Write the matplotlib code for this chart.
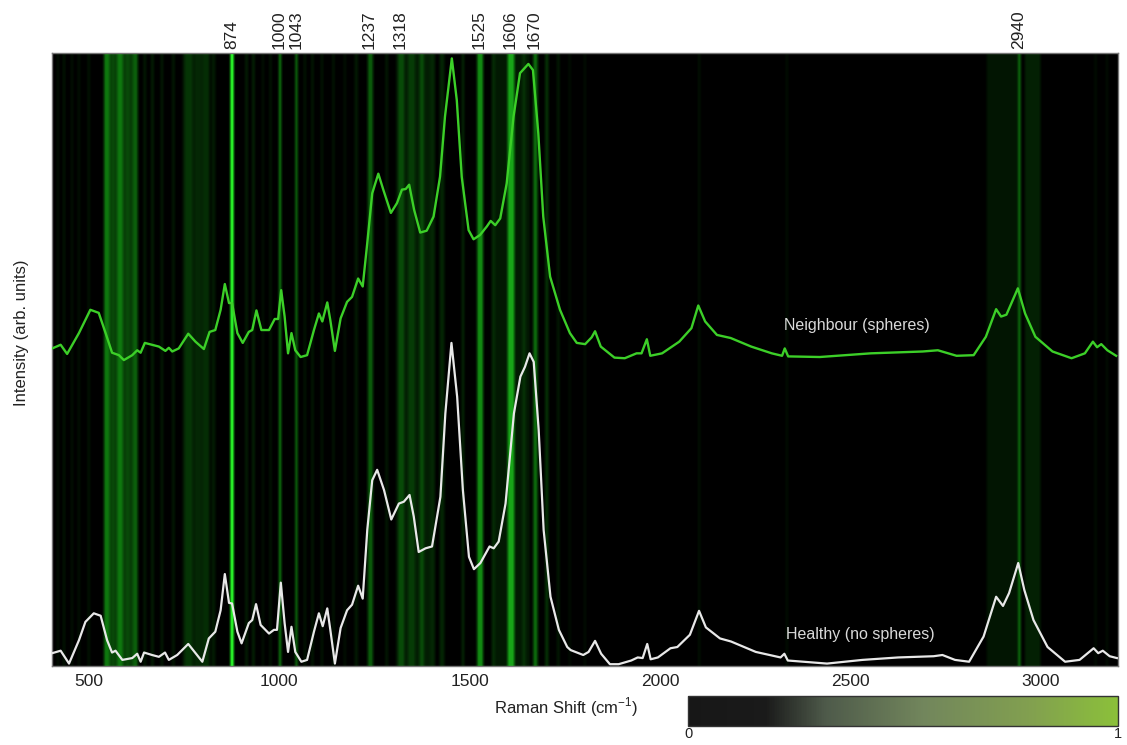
import numpy as np
import matplotlib
matplotlib.use('Agg')
import matplotlib.pyplot as plt
from matplotlib.colors import LinearSegmentedColormap

plt.rcParams['font.family'] = ['Liberation Sans', 'DejaVu Sans']
plt.rcParams['mathtext.fontset'] = 'custom'
plt.rcParams['mathtext.rm'] = 'Liberation Sans'

# Neighbour (spheres) spectrum
green_shift = [404, 426, 443, 474, 504, 526, 544, 561, 579, 592, 614, 627, 636, 647, 666, 684, 701, 710, 719, 736,
               761, 780, 802, 817, 832, 846, 857, 868, 876, 890, 904, 920, 929, 940, 953, 973, 988, 997, 1005, 1014,
               1023, 1032, 1042, 1056, 1073, 1091, 1104, 1113, 1126, 1134, 1146, 1161, 1178, 1191, 1207, 1219, 1231,
               1244, 1260, 1273, 1293, 1309, 1322, 1332, 1341, 1354, 1370, 1387, 1405, 1422, 1435, 1453, 1466, 1479,
               1497, 1510, 1527, 1545, 1555, 1567, 1580, 1597, 1615, 1632, 1654, 1666, 1680, 1693, 1711, 1737, 1763,
               1781, 1803, 1820, 1829, 1844, 1880, 1907, 1938, 1951, 1965, 1974, 2005, 2050, 2082, 2100, 2118, 2149,
               2185, 2239, 2293, 2320, 2327, 2336, 2419, 2553, 2689, 2729, 2778, 2823, 2855, 2882, 2895, 2909, 2939,
               2958, 2985, 3030, 3080, 3115, 3136, 3147, 3158, 3174, 3197]
green_int = [51.8, 52.4, 50.9, 54.3, 58.1, 57.6, 54.3, 51.1, 50.7, 49.9, 50.7, 51.5, 51.1, 52.7, 52.4, 52.1, 51.4,
             51.9, 51.3, 51.8, 54.2, 52.9, 51.7, 54.5, 54.8, 58.1, 62.3, 59.2, 59.2, 54.3, 52.7, 54.5, 54.8, 58.0,
             54.8, 54.8, 56.6, 56.6, 61.3, 57.0, 51.0, 54.3, 51.5, 50.4, 50.7, 54.8, 57.5, 56.2, 59.3, 56.4, 51.4,
             56.7, 59.4, 60.2, 63.2, 61.9, 69.0, 77.1, 80.3, 77.7, 73.9, 75.5, 77.7, 77.8, 78.5, 74.4, 70.7, 71.0,
             73.3, 79.8, 89.6, 99.1, 92.3, 79.8, 71.1, 69.6, 70.3, 71.7, 72.6, 71.9, 73.0, 78.7, 89.6, 96.7, 98.2,
             97.2, 86.9, 73.3, 63.5, 58.1, 54.3, 52.7, 52.5, 53.6, 54.6, 52.1, 50.3, 50.2, 51.0, 51.0, 53.3, 50.6,
             51.0, 52.9, 55.1, 58.8, 56.2, 54.0, 53.5, 52.1, 51.0, 50.6, 51.8, 50.5, 50.4, 51.0, 51.3, 51.5, 50.6,
             50.7, 53.7, 58.2, 57.0, 57.3, 61.6, 57.5, 53.7, 51.3, 50.2, 51.0, 52.9, 52.0, 52.5, 51.5, 50.6]

# Healthy (no spheres) spectrum
white_shift = [404, 426, 448, 474, 491, 513, 531, 548, 561, 570, 588, 614, 627, 636, 645, 666, 684, 700, 710, 732,
               761, 780, 798, 815, 832, 846, 857, 868, 876, 890, 901, 920, 929, 939, 951, 973, 986, 994, 1004, 1014,
               1023, 1032, 1042, 1058, 1073, 1091, 1104, 1114, 1126, 1134, 1146, 1161, 1178, 1191, 1207, 1219, 1231,
               1244, 1257, 1275, 1294, 1314, 1327, 1342, 1353, 1366, 1384, 1401, 1423, 1436, 1452, 1467, 1482, 1498,
               1511, 1528, 1552, 1563, 1576, 1594, 1616, 1633, 1645, 1657, 1668, 1681, 1694, 1712, 1734, 1756, 1765,
               1798, 1812, 1829, 1845, 1868, 1891, 1924, 1941, 1954, 1966, 1975, 1994, 2027, 2045, 2078, 2102, 2120,
               2157, 2186, 2251, 2316, 2326, 2335, 2438, 2531, 2625, 2718, 2741, 2774, 2811, 2849, 2882, 2900, 2916,
               2940, 2956, 2980, 3017, 3063, 3101, 3138, 3150, 3162, 3180, 3199]
white_int = [2.1, 2.5, 0.4, 4.2, 7.2, 8.6, 8.2, 4.2, 2.2, 2.5, 1.0, 1.3, 2.0, 0.7, 2.2, 1.8, 1.5, 2.2, 1.0, 1.8,
             3.6, 2.1, 0.7, 4.5, 5.6, 9.1, 15.0, 10.3, 10.2, 5.6, 3.7, 7.0, 7.5, 10.1, 6.7, 5.3, 5.9, 5.9, 13.6, 7.0,
             2.3, 6.4, 2.3, 0.7, 1.0, 5.6, 8.6, 6.5, 9.4, 5.9, 0.4, 6.2, 9.1, 10.0, 13.1, 11.0, 22.2, 30.3, 32.0,
             28.7, 23.9, 26.5, 26.8, 27.9, 24.4, 18.6, 19.2, 19.5, 27.6, 41.2, 52.7, 43.9, 28.7, 17.8, 15.8, 16.8,
             19.5, 19.2, 20.3, 26.5, 41.2, 47.2, 48.8, 51.0, 49.6, 38.5, 22.2, 11.3, 5.9, 3.1, 2.6, 1.8, 2.3, 4.1,
             2.0, 0.3, 0.3, 0.9, 1.4, 1.3, 3.6, 1.1, 1.4, 2.9, 3.1, 5.1, 9.0, 6.3, 4.5, 4.0, 2.3, 1.4, 2.0, 0.9,
             0.4, 1.0, 1.4, 1.6, 1.8, 1.0, 0.7, 4.8, 11.3, 9.8, 11.9, 16.8, 12.4, 7.5, 3.1, 0.7, 1.0, 2.9, 2.1,
             2.5, 1.6, 1.3]

# importance bands behind the spectra (centre, width in cm-1, level 0..1)
band_center = [585, 780, 1350, 1610, 417, 433, 454, 472, 498, 545, 562, 580, 600, 620, 645, 665, 690, 720, 760,
               785, 805, 825, 874, 912, 930, 955, 975, 1000, 1043, 1065, 1085, 1110, 1140, 1170, 1200, 1237, 1280,
               1318, 1345, 1372, 1400, 1425, 1480, 1525, 1560, 1606, 1640, 1670, 1700, 1730, 1760, 1800, 2100,
               2330, 2900, 2940, 2975, 3140, 3170]
band_width = [85, 70, 90, 90, 4, 4, 4, 4, 4, 14, 8, 14, 8, 12, 6, 6, 6, 6, 20,
              16, 16, 10, 8, 6, 6, 5, 5, 6, 6, 5, 5, 5, 5, 5, 8, 14, 6,
              16, 18, 12, 12, 12, 6, 16, 8, 18, 8, 12, 8, 6, 5, 5, 4,
              4, 90, 6, 40, 4, 4]
band_level = [0.3, 0.16, 0.16, 0.14, 0.12, 0.15, 0.12, 0.12, 0.15, 0.5, 0.35, 0.5, 0.35, 0.42, 0.15, 0.18, 0.15,
              0.15, 0.28, 0.22, 0.25, 0.15, 1.0, 0.18, 0.2, 0.12, 0.15, 0.55, 0.5, 0.15, 0.18, 0.15, 0.15, 0.12,
              0.15, 0.4, 0.15, 0.35, 0.3, 0.35, 0.22, 0.2, 0.22, 0.55, 0.25, 0.62, 0.28, 0.45, 0.28, 0.15, 0.1,
              0.1, 0.12, 0.1, 0.12, 0.5, 0.18, 0.1, 0.1]

top_labels = [874, 1000, 1043, 1237, 1318, 1525, 1606, 1670, 2940]
x_ticks = [500, 1000, 1500, 2000, 2500, 3000]

fig = plt.figure(figsize=(11.27, 7.45), dpi=100)
ax = fig.add_axes([0.0457, 0.106, 0.946, 0.823])

# background: rasterise the bands and soften the edges
grid = np.arange(400, 3203, 1.0)
bg = np.zeros_like(grid)
for c, w, lv in zip(band_center, band_width, band_level):
    inside = np.abs(grid - c) <= w / 2.0
    bg[inside] = np.maximum(bg[inside], lv)
kernel = np.ones(9) / 9.0
bg = np.convolve(bg, kernel, mode='same')
bg_cmap = LinearSegmentedColormap.from_list('bg', [(0.0, '#000000'), (0.3, '#052e05'), (0.6, '#0f7a0f'),
                                                   (1.0, '#2cff2c')])
ax.imshow(bg[None, :], extent=[grid[0], grid[-1], 0, 100], aspect='auto', cmap=bg_cmap,
          vmin=0, vmax=0.85, interpolation='bilinear', zorder=0)

ax.plot(green_shift, green_int, color='#3ccf28', lw=1.7, zorder=3, solid_joinstyle='round')
ax.plot(white_shift, white_int, color='#e8e8e8', lw=1.6, zorder=3, solid_joinstyle='round')

ax.text(2517, 55.6, 'Neighbour (spheres)', color='#d9d9d9', fontsize=11.5, ha='center', va='center')
ax.text(2525, 5.2, 'Healthy (no spheres)', color='#d9d9d9', fontsize=11.5, ha='center', va='center')

ax.set_xlim(402, 3201)
ax.set_ylim(0, 100)
ax.set_yticks([])
ax.set_xticks(x_ticks)
ax.tick_params(axis='x', length=0, pad=6, labelsize=12.5, labelcolor='#222222')
for s in ax.spines.values():
    s.set_color('#777777')
    s.set_linewidth(1.0)

# wavenumber labels along the top
ax2 = ax.twiny()
ax2.set_xlim(ax.get_xlim())
ax2.set_xticks(top_labels)
ax2.set_xticklabels([str(v) for v in top_labels], rotation=90)
ax2.tick_params(axis='x', length=0, pad=3, labelsize=12.5, labelcolor='#222222')
for s in ax2.spines.values():
    s.set_visible(False)

fig.text(0.502, 0.051, 'Raman Shift (cm$^{-1}$)', ha='center', va='center', fontsize=12, color='#222222')
fig.text(0.0195, 0.554, 'Intensity (arb. units)', rotation=90, ha='center', va='center', fontsize=12,
         color='#222222')

# colour scale at the bottom right
cax = fig.add_axes([0.6105, 0.0255, 0.3815, 0.040])
cb_cmap = LinearSegmentedColormap.from_list('cb', [(0.0, '#171717'), (0.18, '#1a1a1a'), (0.32, '#4e5a4a'),
                                                    (0.55, '#72865c'), (0.8, '#82a04f'), (1.0, '#8bc03a')])
sm = plt.cm.ScalarMappable(cmap=cb_cmap, norm=plt.Normalize(0, 1))
cb = fig.colorbar(sm, cax=cax, orientation='horizontal')
cb.set_ticks([0, 1])
cb.outline.set_edgecolor('#333333')
cb.outline.set_linewidth(1.0)
cax.tick_params(length=0, pad=1, labelsize=10.5, labelcolor='#222222')

fig.savefig('out.png', dpi=100)
